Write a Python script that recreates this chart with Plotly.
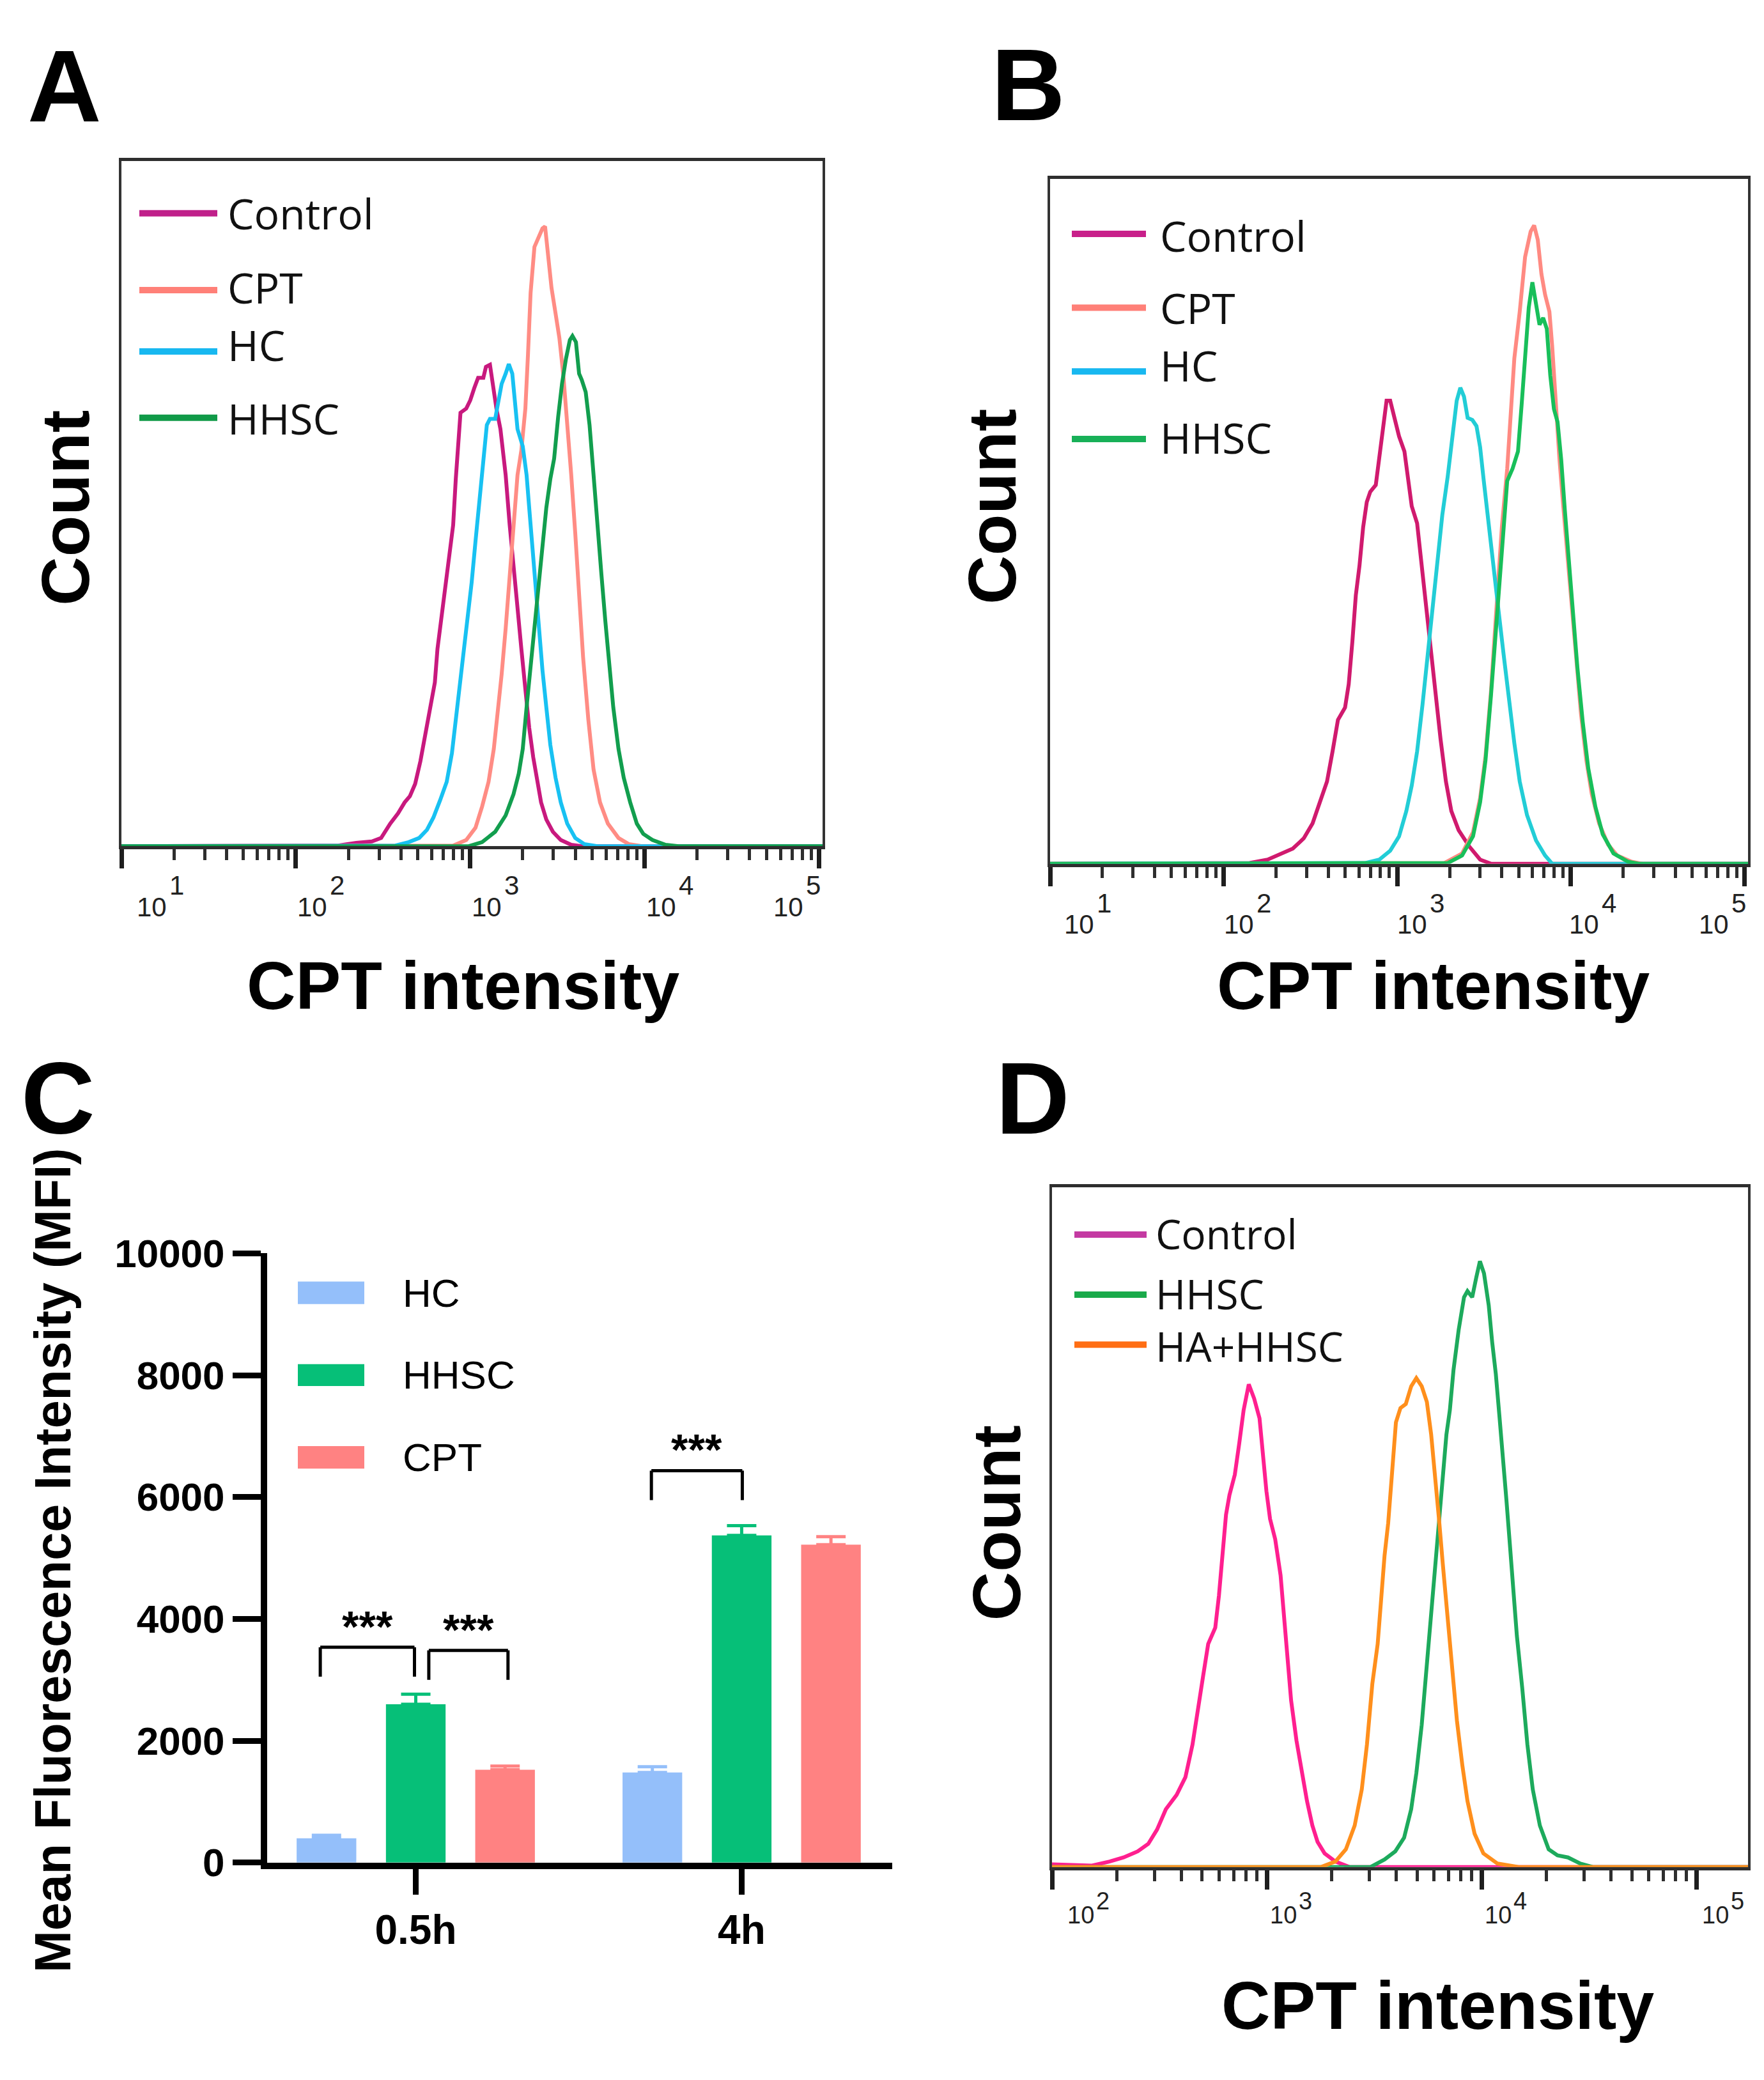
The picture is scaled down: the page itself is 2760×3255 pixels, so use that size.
import plotly.graph_objects as go

W, H = 2760, 3255

# ---- panel A: flow histograms (log10 CPT intensity, count as % of frame height)
a_control_log = [1.0, 2.241, 2.346, 2.436, 2.489, 2.541, 2.586, 2.624, 2.654, 2.684, 2.714, 2.744, 2.774, 2.797,
                 2.812, 2.835, 2.857, 2.880, 2.902, 2.917, 2.929, 2.944, 2.977, 3.000, 3.023, 3.045, 3.075, 3.090,
                 3.113, 3.128, 3.150, 3.173, 3.203, 3.226, 3.248, 3.271, 3.293, 3.316, 3.338, 3.361, 3.383, 3.406,
                 3.436, 3.474, 3.519, 3.579, 3.639, 5.02]
a_control_count = [0, 0.1, 0.5, 0.7, 1.2, 3.3, 4.8, 6.4, 7.3, 9.1, 12.4, 16.7, 20.3, 23.9, 28.8, 33.6, 38.5, 42.7,
                   46.9, 53.6, 59.0, 63.3, 63.9, 65.1, 66.9, 68.4, 68.4, 70.0, 70.3, 67.5, 63.9, 60.9, 54.2, 46.9,
                   40.3, 34.8, 28.8, 22.7, 17.3, 13.0, 9.4, 6.4, 3.9, 2.1, 0.9, 0.2, 0, 0]
a_cpt_log = [1.0, 2.902, 2.977, 3.030, 3.068, 3.105, 3.135, 3.158, 3.180, 3.203, 3.226, 3.248, 3.271, 3.293, 3.316,
             3.331, 3.346, 3.368, 3.391, 3.414, 3.429, 3.444, 3.466, 3.489, 3.511, 3.534, 3.556, 3.579, 3.602, 3.624,
             3.647, 3.677, 3.707, 3.744, 3.789, 3.850, 3.910, 3.985, 5.02]
a_cpt_count = [0, 0.1, 0.9, 2.7, 5.8, 9.4, 14.2, 19.7, 25.1, 31.8, 39.7, 46.9, 54.2, 57.8, 63.9, 71.8, 80.8, 87.5,
               88.7, 90.2, 90.5, 86.3, 81.5, 77.8, 74.2, 68.7, 62.1, 54.2, 45.7, 36.6, 27.6, 18.5, 11.2, 6.4, 3.3,
               1.2, 0.3, 0, 0]
a_hc_log = [1.0, 2.571, 2.647, 2.707, 2.752, 2.789, 2.827, 2.865, 2.895, 2.917, 2.940, 2.962, 2.985, 3.008, 3.030,
            3.053, 3.075, 3.095, 3.113, 3.143, 3.158, 3.180, 3.203, 3.221, 3.241, 3.256, 3.271, 3.301, 3.323, 3.338,
            3.353, 3.371, 3.391, 3.414, 3.436, 3.459, 3.489, 3.519, 3.556, 3.602, 3.654, 3.729, 5.02]
a_hc_count = [0, 0.1, 0.6, 1.2, 2.4, 4.2, 6.7, 9.4, 13.6, 18.5, 23.3, 28.2, 33.0, 38.5, 44.5, 50.6, 56.0, 61.5,
              62.4, 62.4, 64.5, 67.5, 69.0, 70.4, 69.0, 64.5, 60.9, 58.4, 54.2, 49.4, 44.5, 38.5, 32.4, 25.7, 20.3,
              14.8, 10.0, 6.4, 3.3, 1.2, 0.3, 0, 0]
a_hhsc_log = [1.0, 2.992, 3.068, 3.143, 3.203, 3.248, 3.278, 3.301, 3.323, 3.346, 3.368, 3.391, 3.414, 3.436, 3.459,
              3.481, 3.504, 3.526, 3.549, 3.571, 3.586, 3.606, 3.624, 3.639, 3.662, 3.684, 3.707, 3.729, 3.752,
              3.774, 3.797, 3.820, 3.850, 3.880, 3.917, 3.955, 3.992, 4.045, 4.120, 4.195, 5.02]
a_hhsc_count = [0, 0, 0.6, 2.1, 4.5, 7.6, 10.6, 14.2, 20.3, 26.3, 32.4, 38.5, 44.5, 49.4, 53.6, 56.6, 62.7, 67.5,
                71.2, 73.9, 74.5, 73.6, 69.0, 68.1, 66.3, 61.5, 54.2, 46.3, 39.7, 33.0, 26.3, 20.3, 14.2, 10.0, 6.4,
                3.3, 1.8, 0.9, 0.2, 0, 0]

# ---- panel B
b_control_log = [1.0, 2.149, 2.253, 2.336, 2.398, 2.461, 2.512, 2.554, 2.595, 2.627, 2.658, 2.699, 2.720, 2.741,
                 2.761, 2.782, 2.803, 2.824, 2.844, 2.876, 2.896, 2.917, 2.938, 2.959, 2.990, 3.010, 3.041, 3.062,
                 3.083, 3.114, 3.135, 3.156, 3.187, 3.218, 3.249, 3.280, 3.311, 3.353, 3.415, 3.477, 3.539, 5.02]
b_control_count = [0, 0.1, 0.6, 1.5, 2.2, 3.7, 5.9, 9.0, 12.0, 16.4, 21.0, 22.8, 26.2, 32.4, 39.2, 43.5, 49.1,
                   52.8, 54.3, 55.3, 59.0, 63.9, 67.6, 67.6, 64.5, 62.4, 60.2, 56.5, 52.2, 49.7, 44.8, 39.2, 31.8,
                   25.0, 18.2, 12.0, 7.7, 4.9, 2.5, 0.6, 0, 0]
b_cpt_log = [1.0, 3.270, 3.373, 3.436, 3.477, 3.508, 3.539, 3.571, 3.602, 3.633, 3.654, 3.674, 3.705, 3.736, 3.768,
             3.788, 3.809, 3.830, 3.851, 3.876, 3.892, 3.913, 3.934, 3.954, 3.975, 3.996, 4.027, 4.058, 4.089, 4.120,
             4.162, 4.214, 4.266, 4.349, 4.411, 5.02]
b_cpt_count = [0, 0.1, 1.5, 4.6, 9.6, 15.7, 25.0, 37.4, 49.1, 57.7, 66.4, 73.8, 80.6, 88.6, 92.3, 93.2, 91.1, 86.1,
               83.1, 80.6, 75.6, 66.4, 59.0, 52.8, 46.6, 39.8, 30.6, 21.9, 15.1, 10.2, 5.9, 2.8, 1.2, 0.3, 0, 0]
b_hc_log = [1.0, 2.813, 2.896, 2.959, 3.010, 3.052, 3.083, 3.114, 3.145, 3.176, 3.207, 3.239, 3.259, 3.290, 3.322,
            3.342, 3.363, 3.384, 3.405, 3.432, 3.456, 3.477, 3.498, 3.519, 3.550, 3.581, 3.612, 3.643, 3.674, 3.705,
            3.747, 3.799, 3.851, 3.892, 5.02]
b_hc_count = [0, 0.1, 0.6, 1.9, 4.0, 7.7, 11.4, 16.4, 23.2, 30.6, 37.4, 45.4, 50.9, 56.5, 63.3, 67.6, 69.5, 68.2,
              65.1, 64.8, 63.9, 60.8, 55.9, 50.9, 44.2, 37.4, 30.6, 23.8, 17.6, 12.0, 7.1, 3.4, 1.2, 0, 0]
b_hhsc_log = [1.0, 3.290, 3.373, 3.436, 3.477, 3.508, 3.539, 3.571, 3.602, 3.633, 3.664, 3.695, 3.716, 3.736, 3.757,
              3.778, 3.799, 3.819, 3.840, 3.861, 3.881, 3.902, 3.923, 3.944, 3.965, 3.985, 4.006, 4.037, 4.068,
              4.100, 4.141, 4.183, 4.245, 4.328, 4.390, 5.02]
b_hhsc_count = [0, 0.1, 1.2, 4.0, 9.0, 15.1, 24.4, 35.5, 46.6, 55.9, 57.7, 60.2, 67.0, 75.0, 81.2, 84.9, 81.8, 78.7,
                79.7, 78.1, 71.3, 66.4, 64.5, 59.0, 51.6, 44.8, 37.4, 28.7, 20.7, 13.9, 8.3, 4.3, 1.5, 0.3, 0, 0]

# ---- panel D
d_control_log = [2.0, 2.186, 2.268, 2.333, 2.399, 2.448, 2.489, 2.530, 2.580, 2.621, 2.654, 2.678, 2.703, 2.727,
                 2.760, 2.777, 2.793, 2.810, 2.826, 2.851, 2.872, 2.892, 2.916, 2.941, 2.966, 2.982, 2.998, 3.015,
                 3.039, 3.064, 3.080, 3.097, 3.113, 3.138, 3.163, 3.187, 3.212, 3.236, 3.269, 3.319, 3.384, 5.24]
d_control_count = [0.4, 0.2, 0.8, 1.4, 2.3, 3.4, 5.5, 8.5, 10.6, 13.2, 18.0, 23.3, 28.0, 32.8, 35.2, 39.9, 45.8,
                   51.8, 54.7, 57.7, 62.4, 67.2, 71.0, 68.9, 66.0, 60.6, 55.3, 51.2, 48.2, 42.9, 36.3, 29.8, 24.5,
                   18.6, 13.8, 9.7, 6.1, 3.7, 2.0, 0.8, 0, 0]
d_hhsc_log = [2.0, 3.483, 3.548, 3.598, 3.639, 3.672, 3.696, 3.721, 3.745, 3.770, 3.795, 3.819, 3.836, 3.852, 3.869,
              3.893, 3.918, 3.934, 3.956, 3.975, 3.992, 4.011, 4.033, 4.049, 4.066, 4.082, 4.099, 4.115, 4.131,
              4.148, 4.164, 4.189, 4.213, 4.238, 4.271, 4.312, 4.353, 4.402, 4.460, 4.517, 5.24]
d_hhsc_count = [0, 0, 1.1, 2.3, 4.3, 8.5, 13.8, 20.9, 29.8, 38.7, 47.6, 56.5, 63.6, 67.2, 73.1, 79.0, 83.8, 84.7,
                83.8, 86.7, 89.1, 87.3, 82.6, 77.2, 72.5, 66.6, 60.6, 54.1, 47.6, 41.1, 34.0, 26.3, 18.0, 11.4, 6.1,
                2.6, 1.7, 1.4, 0.5, 0, 0]
d_hahhsc_log = [2.0, 3.253, 3.319, 3.368, 3.409, 3.442, 3.466, 3.491, 3.516, 3.532, 3.548, 3.565, 3.581, 3.601,
                3.622, 3.647, 3.672, 3.696, 3.721, 3.745, 3.765, 3.787, 3.803, 3.819, 3.836, 3.852, 3.869, 3.885,
                3.910, 3.934, 3.967, 4.008, 4.074, 4.172, 5.24]
d_hahhsc_count = [0, 0, 0.8, 2.6, 6.1, 11.4, 18.0, 26.9, 32.8, 39.9, 45.8, 50.6, 57.7, 65.4, 67.5, 68.1, 70.7, 71.9,
                  70.7, 68.4, 63.6, 56.5, 50.6, 44.6, 38.7, 32.8, 26.9, 21.5, 15.0, 9.7, 4.9, 2.0, 0.5, 0, 0]

# ---- panel C: mean fluorescence intensity
time_points = ["0.5h", "4h"]
hc_mfi = [400, 1480]
hc_err = [50, 95]
hhsc_mfi = [2600, 5370]
hhsc_err = [165, 160]
cpt_mfi = [1525, 5220]
cpt_err = [60, 130]
mfi_ticks = [0, 2000, 4000, 6000, 8000, 10000]

# significance brackets (category index units, MFI units)
sig_x0 = [-0.293, 0.040, 0.723]
sig_x1 = [-0.004, 0.283, 1.002]
sig_top = [3535, 3484, 6434]
sig_leg = [3052, 3000, 5950]
sig_text = ["***", "***", "***"]

TICK_FONT = "Liberation Sans, Arial, sans-serif"
LEG_FONT = "Open Sans, sans-serif"


def fx(p):
    return p / W


def fy(p):
    return 1 - p / H


fig = go.Figure()
annotations = []
shapes = []


def add_hist(xa, ya, logs, counts, color):
    fig.add_trace(go.Scatter(x=[10 ** v for v in logs], y=counts, mode="lines",
                             line=dict(color=color, width=6), xaxis=xa, yaxis=ya,
                             hoverinfo="skip"))


add_hist("x", "y", a_control_log, a_control_count, "#c8197e")
add_hist("x", "y", a_cpt_log, a_cpt_count, "#ff8c84")
add_hist("x", "y", a_hc_log, a_hc_count, "#18c1f2")
add_hist("x", "y", a_hhsc_log, a_hhsc_count, "#129e4e")

add_hist("x2", "y2", b_control_log, b_control_count, "#d01a6e")
add_hist("x2", "y2", b_cpt_log, b_cpt_count, "#ff8a82")
add_hist("x2", "y2", b_hc_log, b_hc_count, "#22cdd6")
add_hist("x2", "y2", b_hhsc_log, b_hhsc_count, "#18bf5a")

add_hist("x4", "y4", d_control_log, d_control_count, "#ff1f8f")
add_hist("x4", "y4", d_hhsc_log, d_hhsc_count, "#1daa5c")
add_hist("x4", "y4", d_hahhsc_log, d_hahhsc_count, "#ff8f1c")

bar_colors = {"HC": "#94bffa", "HHSC": "#06bf78", "CPT": "#ff8282"}
for name, vals, errs in [("HC", hc_mfi, hc_err), ("HHSC", hhsc_mfi, hhsc_err), ("CPT", cpt_mfi, cpt_err)]:
    fig.add_trace(go.Bar(x=time_points, y=vals, name=name, marker=dict(color=bar_colors[name], line_width=0),
                         error_y=dict(type="data", array=errs, arrayminus=[0] * len(errs), symmetric=False,
                                      color=bar_colors[name], thickness=5, width=23),
                         xaxis="x3", yaxis="y3", hoverinfo="skip"))


def log_axis(dom, lo, hi, anchor):
    decades = [10 ** e for e in range(int(lo), 6)]
    minors = [m * 10 ** e for e in range(int(lo), 5) for m in range(2, 10)]
    return dict(domain=dom, anchor=anchor, type="log", range=[lo, hi], showline=True, mirror=True,
                linewidth=5, linecolor="#2e2e2e", showgrid=False, zeroline=False, ticks="outside",
                tickmode="array", tickvals=decades, ticklen=30, tickwidth=7, tickcolor="#1e1e1e",
                showticklabels=False,
                minor=dict(tickmode="array", tickvals=minors, ticks="outside", ticklen=17, tickwidth=4.5,
                           tickcolor="#2e2e2e", showgrid=False))


def count_axis(dom, anchor):
    return dict(domain=dom, range=[0, 100], showline=True, mirror=True, linewidth=4, linecolor="#333",
                showgrid=False, zeroline=False, ticks="", showticklabels=False, anchor=anchor)


def decade_labels(xref, base_px, exps, shifts, size, base_gap, exp_gap, exp_dx):
    for e, s in zip(exps, shifts):
        f = dict(family=TICK_FONT, size=size, color="#222")
        annotations.append(dict(xref=xref, yref="paper", x=e, y=fy(base_px + base_gap), text="10",
                                xanchor="left", yanchor="top", xshift=s, showarrow=False, font=f))
        annotations.append(dict(xref=xref, yref="paper", x=e, y=fy(base_px + exp_gap), text=str(e),
                                xanchor="left", yanchor="top", xshift=s + exp_dx, showarrow=False, font=f))


def line_legend(x0, x1, xt, line_ys, text_ys, names, colors, size=66):
    for yl, yt, n, c in zip(line_ys, text_ys, names, colors):
        shapes.append(dict(type="line", xref="paper", yref="paper", x0=fx(x0), x1=fx(x1), y0=fy(yl), y1=fy(yl),
                           line=dict(color=c, width=10)))
        annotations.append(dict(xref="paper", yref="paper", x=fx(xt), y=fy(yt), text=n, xanchor="left",
                                yanchor="middle", showarrow=False, borderpad=0,
                                font=dict(family=LEG_FONT, size=size, color="#111")))


def text(x, y, s, size, angle=0, xanchor="center"):
    annotations.append(dict(xref="paper", yref="paper", x=fx(x), y=fy(y), text=s, textangle=angle,
                            xanchor=xanchor, yanchor="middle", showarrow=False,
                            font=dict(family=TICK_FONT, size=size, color="black", weight="bold")))


fig.update_layout(
    xaxis=log_axis([fx(182), fx(1279)], 1.0, 5.02, "y"),
    yaxis=count_axis([fy(1310), fy(215)], "x"),
    xaxis2=log_axis([fx(1635), fx(2727)], 1.0, 5.02, "y2"),
    yaxis2=count_axis([fy(1338), fy(243)], "x2"),
    xaxis4=log_axis([fx(1638), fx(2727)], 2.0, 5.24, "y4"),
    yaxis4=count_axis([fy(2942), fy(1855)], "x4"),
)

fig.update_layout(
    xaxis3=dict(domain=[fx(410), fx(1388)], anchor="y3", type="category", range=[-0.456, 1.462],
                showline=True, linewidth=10, linecolor="black", showgrid=False, ticks="outside", ticklen=40,
                tickwidth=9, tickcolor="black",
                tickfont=dict(family=TICK_FONT, size=64, color="black", weight="bold")),
    yaxis3=dict(domain=[fy(2935), fy(1961)], anchor="x3", range=[0, 10000], tickmode="array",
                tickvals=mfi_ticks, ticktext=[str(v) for v in mfi_ticks],
                showline=True, linewidth=10, linecolor="black", showgrid=False, zeroline=False,
                ticks="outside", ticklen=44, tickwidth=9, tickcolor="black",
                tickfont=dict(family=TICK_FONT, size=62, color="black", weight="bold")),
)

# tick labels of the log axes
decade_labels("x", 1310, [1, 2, 3, 4, 5], [22, 0, 0, 0, -74], 42, 71, 37, 51)
decade_labels("x2", 1338, [1, 2, 3, 4, 5], [20, -2, -2, -5, -74], 42, 71, 37, 51)
decade_labels("x4", 2942, [2, 3, 4, 5], [22, 3, 3, 7], 38, 53, 31, 45)

# legends
line_legend(210, 332, 347, [298, 421, 519, 625], [297, 416, 508, 625], ["Control", "CPT", "HC", "HHSC"],
            ["#c0208a", "#ff8078", "#18b8f0", "#109a48"])
line_legend(1669, 1785, 1806, [331, 449, 551, 659], [333, 449, 540, 656], ["Control", "CPT", "HC", "HHSC"],
            ["#c8208a", "#ff8078", "#18b8f0", "#18b058"])
line_legend(1673, 1786, 1799, [1931, 2027, 2107], [1929, 2025, 2109], ["Control", "HHSC", "HA+HHSC"],
            ["#c43aa2", "#1aaa4a", "#ff6e14"], size=64)

for (y0, y1), name in zip([(2006, 2042), (2138, 2173), (2269, 2305)], ["HC", "HHSC", "CPT"]):
    shapes.append(dict(type="rect", xref="paper", yref="paper", x0=fx(458), x1=fx(562), y0=fy(y1), y1=fy(y0),
                       fillcolor=bar_colors[name], line_width=0))
    annotations.append(dict(xref="paper", yref="paper", x=fx(620), y=fy((y0 + y1) / 2), text=name,
                            xanchor="left", yanchor="middle", showarrow=False,
                            font=dict(family=TICK_FONT, size=62, color="black")))

# significance brackets
for x0, x1, yt, yl, s in zip(sig_x0, sig_x1, sig_top, sig_leg, sig_text):
    for sx0, sy0, sx1, sy1 in [(x0, yl, x0, yt), (x0, yt, x1, yt), (x1, yt, x1, yl)]:
        shapes.append(dict(type="line", xref="x3", yref="y3", x0=sx0, y0=sy0, x1=sx1, y1=sy1,
                           line=dict(color="black", width=5)))
    annotations.append(dict(xref="x3", yref="y3", x=(x0 + x1) / 2, y=yt, yshift=33, text=s, showarrow=False,
                            xanchor="center", yanchor="middle",
                            font=dict(family=TICK_FONT, size=68, color="black", weight="bold")))

# panel letters and axis titles
text(33, 94, "A", 160, xanchor="left")
text(1541, 92, "B", 160, xanchor="left")
text(23, 1712, "C", 160, xanchor="left")
text(1548, 1713, "D", 160, xanchor="left")

text(94, 769, "Count", 106, angle=-90)
text(1544, 767, "Count", 106, angle=-90)
text(1551, 2392, "Count", 106, angle=-90)
text(716, 1532, "CPT intensity", 106)
text(2234, 1532, "CPT intensity", 106)
text(2241, 3163, "CPT intensity", 106)
text(74, 2452, "Mean Fluorescence Intensity (MFI)", 79, angle=-90)

fig.update_layout(width=W, height=H, margin=dict(l=0, r=0, t=0, b=0), paper_bgcolor="white",
                  plot_bgcolor="white", showlegend=False, barmode="group", bargap=0.178, bargroupgap=0.332,
                  annotations=annotations, shapes=shapes)

fig.write_html("out.html")
